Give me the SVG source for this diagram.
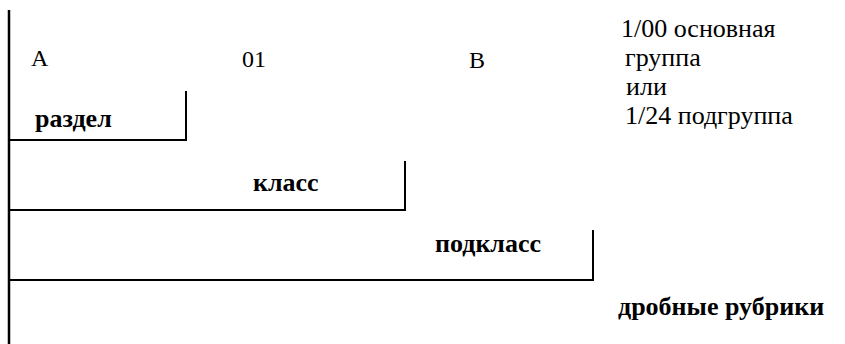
<svg xmlns="http://www.w3.org/2000/svg" width="845" height="344" viewBox="0 0 845 344">
<style>
text{font-family:'Liberation Serif','Times New Roman','DejaVu Serif',serif;font-size:24px;fill:#000}
.r{font-size:26px}
.b{font-weight:bold;font-size:26px}
.ln{stroke:#000;stroke-width:2;fill:none}
.main{stroke:#000;stroke-width:2.5;fill:none}
</style>
<rect width="845" height="344" fill="#fff"/>
<g id="connectors">
<line class="main" x1="9" y1="10" x2="9" y2="344"/>
<polyline class="ln" points="9,140 186,140 186,91"/>
<polyline class="ln" points="9,210 405,210 405,161"/>
<polyline class="ln" points="9,280 593,280 593,230"/>
</g>
<g id="labels">
<text x="31" y="66">A</text>
<text x="242" y="67">01</text>
<text x="469" y="68">B</text>
</g>
<g id="razdel"><text class="b" x="35" y="127">раздел</text></g>
<g id="klass"><text class="b" x="253" y="191">класс</text></g>
<g id="podklass"><text class="b" x="435" y="252">подкласс</text></g>
<g id="gruppa">
<text class="r" x="621" y="37">1/00 основная</text>
<text class="r" x="625" y="66">группа</text>
<text class="r" x="626" y="95">или</text>
<text class="r" x="625" y="124">1/24 подгруппа</text>
</g>
<g id="drobnye"><text class="b" x="618" y="315">дробные рубрики</text></g>
</svg>
